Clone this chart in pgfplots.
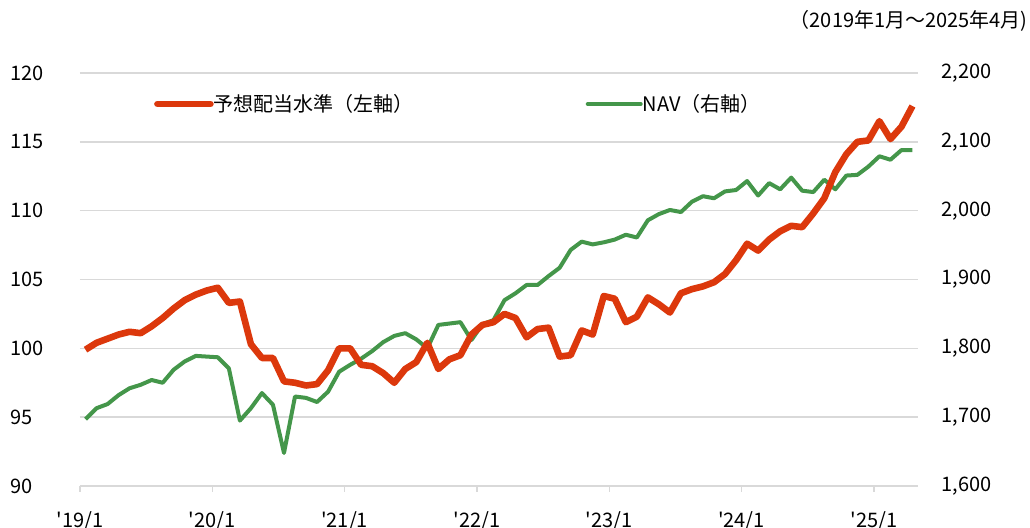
\documentclass[border=0pt]{standalone}
\usepackage{pgfplots}
\pgfplotsset{compat=1.18}
\usepackage{pgfplotstable}
\usepackage{fontspec}
\newfontfamily\jpfont{Noto Sans CJK JP}
\definecolor{divred}{RGB}{220,56,12}
\definecolor{navgreen}{RGB}{68,150,74}
\definecolor{gridgray}{RGB}{217,217,217}

% month index 0 = 2019/1
\pgfplotstableread{
i div nav
0 99.9 1697
1 100.4 1713
2 100.7 1719
3 101.0 1732
4 101.2 1742
5 101.1 1747
6 101.6 1754
7 102.2 1750
8 102.9 1769
9 103.5 1781
10 103.9 1789
11 104.2 1788
12 104.4 1787
13 103.3 1771
14 103.4 1695
15 100.3 1713
16 99.3 1735
17 99.3 1718
18 97.6 1648
19 97.5 1730
20 97.3 1728
21 97.4 1722
22 98.4 1737
23 100.0 1766
24 100.0 1776
25 98.8 1785
26 98.7 1796
27 98.2 1809
28 97.5 1818
29 98.5 1822
30 99.0 1813
31 100.4 1800
32 98.5 1834
33 99.2 1836
34 99.5 1838
35 101.0 1812
36 101.7 1835
37 101.9 1841
38 102.5 1870
39 102.2 1880
40 100.8 1892
41 101.4 1892
42 101.5 1905
43 99.4 1917
44 99.5 1943
45 101.3 1955
46 101.0 1951
47 103.8 1954
48 103.6 1958
49 101.9 1965
50 102.3 1961
51 103.7 1986
52 103.2 1995
53 102.6 2001
54 104.0 1998
55 104.3 2013
56 104.5 2021
57 104.8 2018
58 105.4 2028
59 106.4 2030
60 107.6 2043
61 107.1 2022
62 107.9 2040
63 108.5 2031
64 108.9 2048
65 108.8 2029
66 109.8 2027
67 110.9 2045
68 112.8 2031
69 114.1 2051
70 115.0 2052
71 115.1 2064
72 116.5 2079
73 115.2 2074
74 116.1 2088
75 117.6 2088
}\chartdata

\begin{document}
\jpfont\fontsize{10}{12}\selectfont
\begin{tikzpicture}
\useasboundingbox (-40pt,-21pt) rectangle (475pt,243pt);
\pgfplotsset{
  base/.style={
    width=419pt, height=206.5pt, scale only axis,
    xmin=0, xmax=76,
    xtick={0,12,...,72},
    every tick label/.append style={font=\jpfont\fontsize{10}{12}\selectfont},
  }
}
\begin{axis}[
  base,
  ymin=1600, ymax=2200,
  axis x line*=bottom, axis y line*=right,
  x axis line style={gridgray, line width=0.75pt},
  y axis line style={draw=none},
  xtick style={gridgray, line width=0.75pt},
  ytick style={draw=none},
  major tick length=3pt, tick align=outside,
  xticklabels={'19/1,'20/1,'21/1,'22/1,'23/1,'24/1,'25/1},
  xticklabel style={anchor=center, inner sep=0pt, yshift=-14.5pt},
  ytick={1600,1700,...,2200},
  yticklabels={{1,600},{1,700},{1,800},{1,900},{2,000},{2,100},{2,200}},
  yticklabel style={anchor=west, inner sep=0pt, xshift=8.5pt},
  ymajorgrids,
  grid style={gridgray, line width=0.75pt},
]
\addplot[navgreen, line width=2pt, line join=round]
  table[x expr=\thisrow{i}+0.5, y=nav]{\chartdata};
\end{axis}
\begin{axis}[
  base,
  ymin=90, ymax=120,
  hide x axis,
  axis y line*=left,
  y axis line style={draw=none},
  ytick style={draw=none},
  ytick={90,95,...,120},
  yticklabels={90,95,100,105,110,115,120},
  yticklabel style={anchor=west, inner sep=0pt, xshift=-35pt},
  legend style={at={(0.088,0.925)}, anchor=west, draw=none, fill=none,
    inner sep=0pt, font=\jpfont\fontsize{10}{12}\selectfont,
    nodes={inner sep=0pt, anchor=west},
    /tikz/every odd column/.append style={column sep=0pt},
    /tikz/every even column/.append style={column sep=86pt}},
  legend columns=2,
  legend image code/.code={\draw[#1, line cap=round] (0pt,0pt) -- (26.5pt,0pt);},
]
\addplot[divred, line width=3.3pt, line join=round]
  table[x expr=\thisrow{i}+0.5, y=div]{\chartdata};
\addlegendentry{予想配当水準（左軸）}
\addlegendimage{navgreen, line width=2pt}
\addlegendentry{NAV（右軸）}
\end{axis}
\node[anchor=east, inner sep=0pt] at (474pt,232.5pt) {（2019年1月～2025年4月)};
\end{tikzpicture}
\end{document}
